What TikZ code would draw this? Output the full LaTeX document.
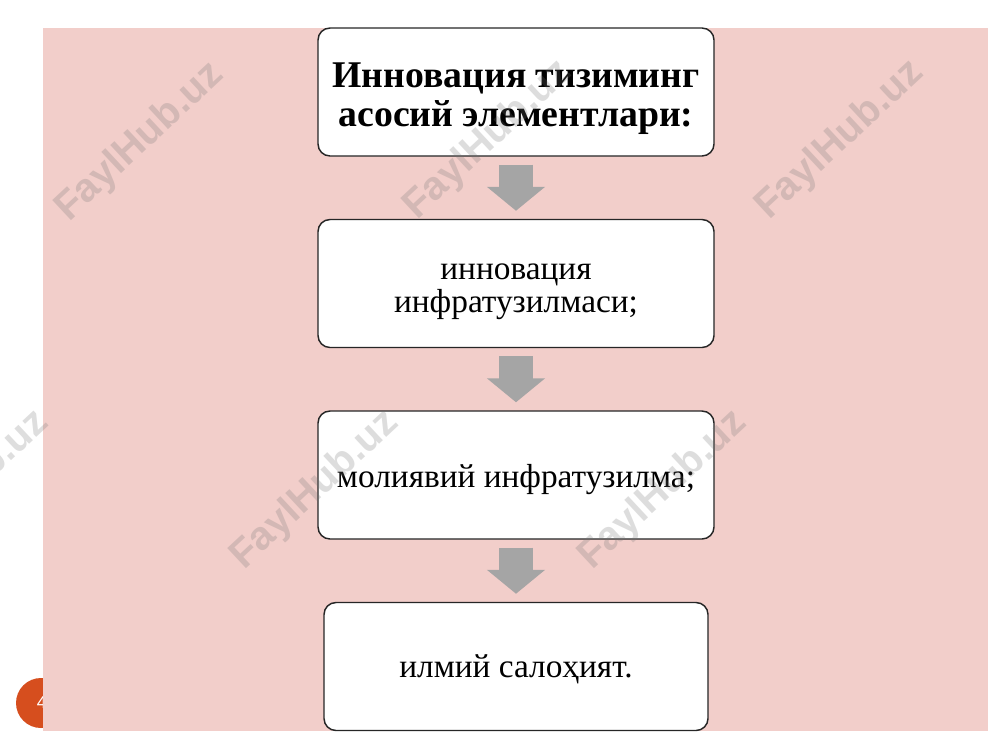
\documentclass[tikz,border=0pt]{standalone}
\usepackage{fontspec}
\setmainfont{Liberation Serif}
\newfontfamily\wmfont{Liberation Sans}
\usetikzlibrary{arrows.meta}

\definecolor{slidepink}{RGB}{242,206,202}
\definecolor{pagered}{RGB}{214,78,30}
\definecolor{arrowgray}{RGB}{165,165,165}

% lower a text in its box without changing the box
\newcommand{\lowertext}[2]{\raisebox{-#1}[\height][\depth]{#2}}

\begin{document}
\begin{tikzpicture}[x=0.75pt, y=-0.75pt,
    box/.style={draw=black!85, line width=1.1pt, fill=white, rounded corners=9pt,
      minimum width=297pt, minimum height=96pt, align=center, inner sep=0,
      font=\fontsize{25}{25.5}\selectfont},
    downarrow/.style={draw=arrowgray, line width=25.5pt,
      -{Triangle[width=42.75pt, length=18pt]}, shorten <=6pt, shorten >=6pt},
    watermark/.style={rotate=43, text=black!55, opacity=0.24,
      font=\wmfont\bfseries\fontsize{30}{30}\selectfont}]
	\useasboundingbox (0,0) rectangle (1000,750);
	% page number under the slide
	\node (pg) [circle, fill=pagered, minimum size=37.5pt, inner sep=0, text=white,
	  font=\wmfont\fontsize{13}{13}\selectfont] at (41,703) {\hspace*{1pt}4};
	\fill[slidepink] (43,28) rectangle (988,731);

	\node (b1) [box, font=\bfseries\fontsize{28.3}{30}\selectfont] at (516,92) {\lowertext{5pt}{\begin{tabular}{@{}c@{}}Инновация тизиминг\\[-1pt]асосий элементлари:\end{tabular}}};
	\node (b2) [box] at (516,283.5) {\lowertext{4.5pt}{\begin{tabular}{@{}c@{}}инновация\\[-0.5pt]инфратузилмаси;\end{tabular}}};
	\node (b3) [box] at (516,475) {\lowertext{3.5pt}{молиявий инфратузилма;}};
	\node (b4) [box, minimum width=288pt] at (516,666.5) {\lowertext{2pt}{илмий салоҳият.}};

	\draw[downarrow] (b1) -- (b2);
	\draw[downarrow] (b2) -- (b3);
	\draw[downarrow] (b3) -- (b4);

	% watermarks
	\node (w1) [watermark] at (140,142) {FaylHub.uz};
	\node (w2) [watermark] at (488,140) {FaylHub.uz};
	\node (w3) [watermark] at (840,140) {FaylHub.uz};
	\node (w4) [watermark] at (-35,490) {FaylHub.uz};
	\node (w5) [watermark] at (315,490) {FaylHub.uz};
	\node (w6) [watermark] at (663,490) {FaylHub.uz};
\end{tikzpicture}
\end{document}
